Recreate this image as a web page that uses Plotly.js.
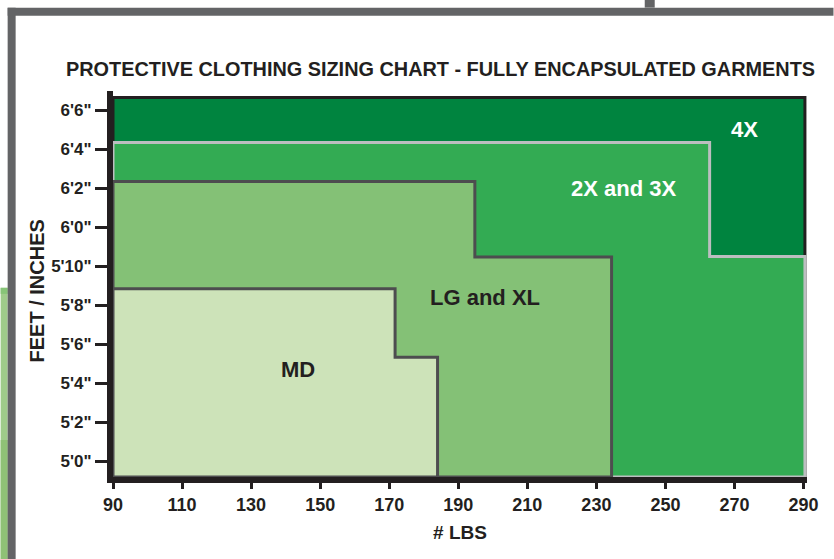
<!DOCTYPE html>
<html>
<head>
<meta charset="utf-8">
<script src="https://cdn.plot.ly/plotly-3.0.1.min.js"></script>
<style>html,body{margin:0;padding:0;background:#fff;}#chart{width:834px;height:559px;}</style>
</head>
<body>
<div id="chart"></div>
<script>
// ---- data ----
const chartTitle = 'PROTECTIVE CLOTHING SIZING CHART - FULLY ENCAPSULATED GARMENTS';
const weightTicks = [90, 110, 130, 150, 170, 190, 210, 230, 250, 270, 290];
const heightTicks = [60, 62, 64, 66, 68, 70, 72, 74, 76, 78];
const heightTickLabels = ["5'0\"", "5'2\"", "5'4\"", "5'6\"", "5'8\"", "5'10\"", "6'0\"", "6'2\"", "6'4\"", "6'6\""];
const sizes = ['4X', '2X and 3X', 'LG and XL', 'MD'];
const topHeight = [78.67, 76.36, 74.35, 68.84];   // inches, max height at low weights
const stepWeight = [290.4, 262.8, 194.8, 171.7];  // lbs where height limit steps down
const stepHeight = [78.67, 70.5, 70.47, 65.33];   // inches after the step
const maxWeight = [290.4, 290.4, 234.4, 184.0];   // lbs
const minWeight = 90;
const labelWeight = [272.9, 237.9, 197.7, 143.6];
const labelHeight = [77.0, 73.98, 68.38, 64.68];

// ---- styles ----
const fillColors = ['#00843f', '#33ab53', '#84c176', '#cde3b9'];
const lineColors = ['#231f20', '#bcbec0', '#4d4d4f', '#4d4d4f'];
const labelColors = ['#ffffff', '#ffffff', '#231f20', '#231f20'];
const ink = '#231f20';
const xRange = [90, 291];
const yRange = [59.18, 79.0];
const W = 834, H = 559;
const M = {l: 112.5, r: 26.5, t: 91.3, b: 82};
const plotW = W - M.l - M.r, plotH = H - M.t - M.b;
const px = v => (v - M.l) / plotW;
const py = v => (H - M.b - v) / plotH;
const boldFont = 'Liberation Sans, Arial, Helvetica, sans-serif';

const traces = sizes.map((s, i) => ({
  type: 'scatter', mode: 'lines', name: s,
  x: [minWeight, minWeight, stepWeight[i], stepWeight[i], maxWeight[i], maxWeight[i], minWeight],
  y: [yRange[0], topHeight[i], topHeight[i], stepHeight[i], stepHeight[i], yRange[0], yRange[0]],
  fill: 'toself', fillcolor: fillColors[i],
  line: {color: lineColors[i], width: 3},
  hoverinfo: 'skip', showlegend: false
}));

const annotations = sizes.map((s, i) => ({
  x: labelWeight[i], y: labelHeight[i], xref: 'x', yref: 'y', text: s, showarrow: false,
  font: {family: boldFont, size: 22, color: labelColors[i], weight: 'bold'},
  xanchor: 'center', yanchor: 'middle'
}));
annotations.push({
  xref: 'paper', yref: 'paper', x: px(36), y: py(291), text: 'FEET / INCHES', textangle: -90,
  showarrow: false, xanchor: 'center', yanchor: 'middle',
  font: {family: boldFont, size: 20, color: ink, weight: 'bold'}
});

const deco = '#636466';
const shapes = [
  {type: 'rect', xref: 'paper', yref: 'paper', x0: px(0), x1: px(7), y0: py(559), y1: py(288), fillcolor: '#9fcb8a', line: {width: 0}, layer: 'below'},
  {type: 'rect', xref: 'paper', yref: 'paper', x0: px(0), x1: px(7), y0: py(559), y1: py(440), fillcolor: '#8fc176', line: {width: 0}, layer: 'below'},
  {type: 'rect', xref: 'paper', yref: 'paper', x0: px(0), x1: px(7), y0: py(294), y1: py(288), fillcolor: '#87c477', line: {width: 0}, layer: 'below'},
  {type: 'rect', xref: 'paper', yref: 'paper', x0: px(7), x1: px(15), y0: py(559), y1: py(8), fillcolor: deco, line: {width: 0}, layer: 'below'},
  {type: 'rect', xref: 'paper', yref: 'paper', x0: px(7), x1: px(834), y0: py(16), y1: py(8), fillcolor: deco, line: {width: 0}, layer: 'below'},
  {type: 'rect', xref: 'paper', yref: 'paper', x0: px(645), x1: px(655), y0: py(8), y1: py(0), fillcolor: deco, line: {width: 0}, layer: 'below'}
];

const tickFont = {family: boldFont, size: 18, color: ink, weight: 'bold'};

const layout = {
  width: W, height: H,
  margin: M,
  paper_bgcolor: '#ffffff', plot_bgcolor: '#ffffff',
  showlegend: false,
  title: {
    text: chartTitle, xref: 'paper', x: px(440.5), xanchor: 'center',
    yref: 'container', y: 1 - 68.5 / H, yanchor: 'middle',
    font: {family: boldFont, size: 21, color: ink, weight: 'bold'}
  },
  xaxis: {
    range: xRange, tickvals: weightTicks, ticktext: weightTicks.map(String),
    showgrid: false, zeroline: false, showline: true, linecolor: ink, linewidth: 6,
    ticks: 'outside', ticklen: 6, tickwidth: 3, tickcolor: ink,
    tickfont: tickFont, fixedrange: true,
    title: {text: '# LBS', standoff: 14, font: {family: boldFont, size: 19, color: ink, weight: 'bold'}}
  },
  yaxis: {
    range: yRange, tickvals: heightTicks, ticktext: heightTickLabels,
    showgrid: false, zeroline: false, showline: true, linecolor: ink, linewidth: 6,
    ticks: 'outside', ticklen: 12, tickwidth: 3, tickcolor: ink,
    tickfont: Object.assign({}, tickFont, {size: 17}), fixedrange: true
  },
  annotations: annotations,
  shapes: shapes
};

Plotly.newPlot('chart', traces, layout, {displayModeBar: false, staticPlot: true}).then(gd => {
  // condense the title to the narrow width of the original artwork
  const t = gd.querySelector('.gtitle');
  if (t) {
    t.setAttribute('textLength', '749');
    t.setAttribute('lengthAdjust', 'spacingAndGlyphs');
  }
});
</script>
</body>
</html>
